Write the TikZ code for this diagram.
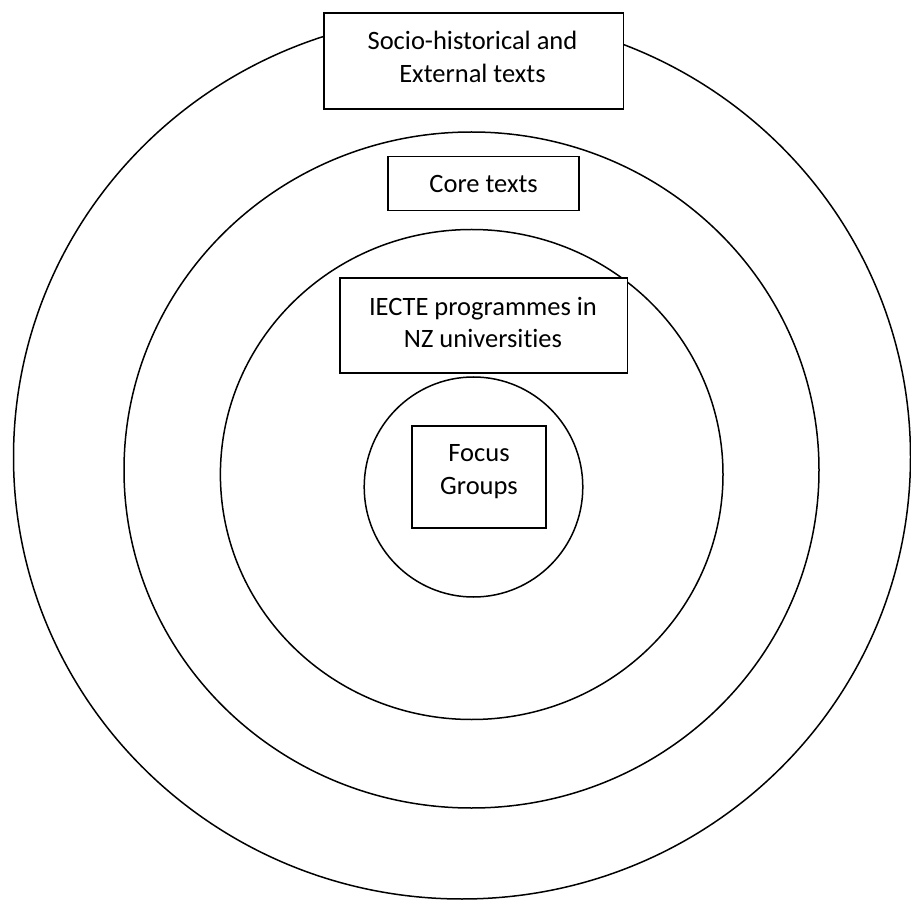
\documentclass[tikz,border=0pt]{standalone}
\usepackage{fontspec}
\setmainfont[Ligatures=NoCommon]{Carlito}
\begin{document}
\begin{tikzpicture}[x=1pt,y=-1pt,
  ring/.style={draw=black,line width=1.5pt},
  boxshape/.style={draw=black,fill=white,line width=1.9pt,rectangle,inner sep=0pt},
  lbl/.style={align=center,inner sep=0pt,font=\fontsize{26.5}{32.5}\selectfont}]
\useasboundingbox (0,0) rectangle (911,901);
\fill[white] (0,0) rectangle (911,901);
% rings
\draw[ring] (462,457) ellipse [x radius=448.5pt, y radius=442pt];
\draw[ring] (471.5,470) ellipse [x radius=347.5pt, y radius=338pt];
\draw[ring] (471.7,474.5) ellipse [x radius=251.3pt, y radius=245pt];
\draw[ring] (473.5,487) ellipse [x radius=109.3pt, y radius=110pt];
% boxes
\node[boxshape,minimum width=299.5pt,minimum height=96pt] (socioBox) at (473.75,60.6) {};
\node[boxshape,minimum width=191pt,minimum height=54pt] (coreBox) at (483.5,183.5) {};
\node[boxshape,minimum width=287.5pt,minimum height=94.5pt] (iecteBox) at (483.75,325.7) {};
\node[boxshape,minimum width=134pt,minimum height=102pt] (focusBox) at (479,477) {};
% labels
\node[lbl] (socio) at (472.5,57) {Socio-historical and\\External texts};
\node[lbl] (core) at (483.6,184.5) {Core texts};
\node[lbl] (iecte) at (483,322.5) {IECTE programmes in\\NZ universities};
\node[lbl] (focus) at (479,471.5) {Focus\\Groups};
\end{tikzpicture}
\end{document}
